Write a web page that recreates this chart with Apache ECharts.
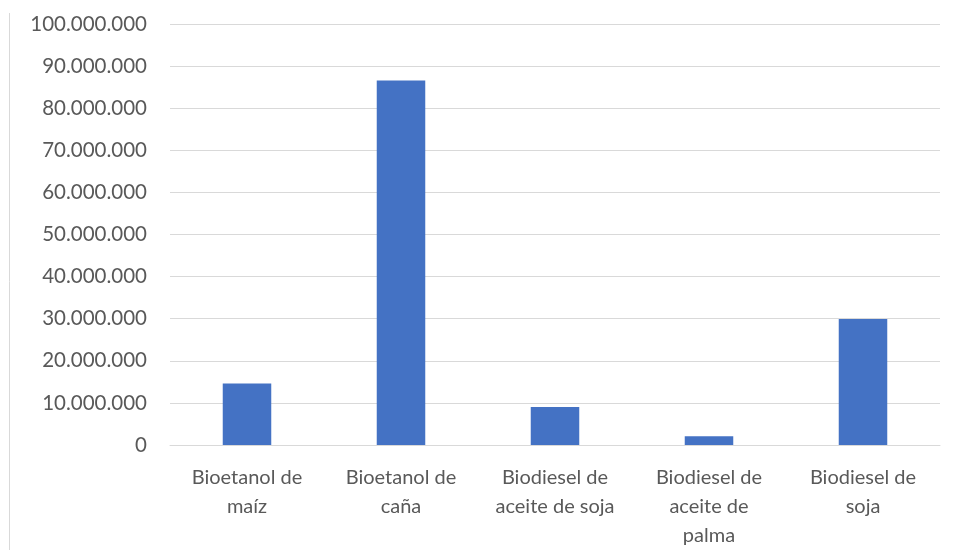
<!DOCTYPE html>
<html>
<head>
<meta charset="utf-8">
<script src="https://cdn.jsdelivr.net/npm/echarts@6/dist/echarts.min.js"></script>
<style>html,body{margin:0;padding:0;background:#fff;}#c{width:954px;height:550px;}</style>
</head>
<body>
<div id="c"></div>
<script>
const categories = ["Bioetanol de\nmaíz", "Bioetanol de\ncaña", "Biodiesel de\naceite de soja", "Biodiesel de\naceite de\npalma", "Biodiesel de\nsoja"];
const values = [14600000, 86600000, 9000000, 2100000, 29900000];
const yMin = 0, yMax = 100000000, yStep = 10000000;

function fmt(v) { return String(v).replace(/\B(?=(\d{3})+(?!\d))/g, '.'); }

const chart = echarts.init(document.getElementById('c'));
chart.setOption({
  animation: false,
  textStyle: { fontFamily: 'Lato' },
  grid: { left: 170, right: 14, top: 24, bottom: 99, containLabel: false },
  graphic: [{ type: 'line', shape: { x1: 9.5, y1: 13, x2: 9.5, y2: 550 }, style: { stroke: '#d9d9d9', lineWidth: 1 } }],
  xAxis: {
    type: 'category', data: categories,
    axisTick: { show: false },
    axisLine: { lineStyle: { color: '#d9d9d9' } },
    axisLabel: { color: '#595959', fontSize: 20, lineHeight: 29, margin: 18, interval: 0, fontFamily: 'Lato' }
  },
  yAxis: {
    type: 'value', min: yMin, max: yMax, interval: yStep,
    axisLine: { show: false }, axisTick: { show: false },
    splitLine: { lineStyle: { color: '#d9d9d9', width: 1 } },
    axisLabel: { color: '#595959', fontSize: 20.5, margin: 23, formatter: fmt, fontFamily: 'Lato' }
  },
  series: [{ type: 'bar', data: values, barWidth: '31.5%', itemStyle: { color: '#4472c4' } }]
});
</script>
</body>
</html>
